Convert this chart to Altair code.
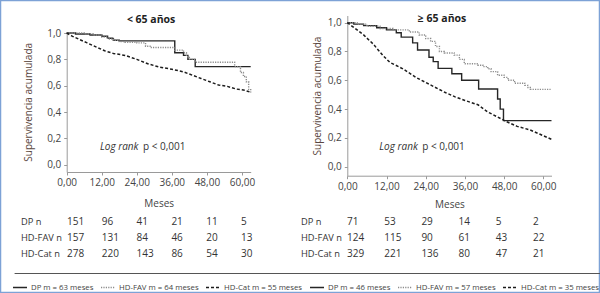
import altair as alt
import pandas as pd

FONT = "Open Sans"

# ---------------- data ----------------
meses_ticks = [0, 12, 24, 36, 48, 60]
surv_ticks = [0.0, 0.2, 0.4, 0.6, 0.8, 1.0]

leyenda = ["DP m = 63 meses", "HD-FAV m = 64 meses", "HD-Cat m = 55 meses",
           "DP m = 46 meses", "HD-FAV m = 57 meses", "HD-Cat m = 35 meses"]
grupos = ["DP n", "HD-FAV n", "HD-Cat n"]

# < 65 años
l_dp_t = [0, 3, 8, 12, 14, 16, 18, 37, 40, 41.5, 44, 63]
l_dp_s = [1.0, 0.993, 0.985, 0.975, 0.96, 0.945, 0.94, 0.85, 0.83, 0.80, 0.745, 0.745]
l_fav_t = [0, 6, 9, 12, 14, 16, 18, 20, 24, 27, 29, 37, 40, 41, 42, 44, 57.5, 59.5, 60.5, 61.5, 62.3, 63]
l_fav_s = [1.0, 0.995, 0.985, 0.97, 0.955, 0.945, 0.935, 0.93, 0.925, 0.90, 0.89, 0.87, 0.85, 0.82, 0.80, 0.778,
           0.745, 0.70, 0.67, 0.63, 0.57, 0.54]
l_cat_t = [0, 2, 4, 7, 10, 13, 16, 20, 24, 28, 32, 36, 40, 43, 46, 49, 52, 55, 58, 61, 63]
l_cat_s = [1.0, 0.975, 0.955, 0.925, 0.895, 0.865, 0.845, 0.83, 0.80, 0.765, 0.74, 0.725, 0.705, 0.68, 0.655,
           0.63, 0.605, 0.595, 0.575, 0.565, 0.55]

# >= 65 años
r_dp_t = [0, 2, 5, 9, 12, 15, 16.5, 20, 21.5, 25, 26.3, 27.8, 32, 35, 40.2, 46, 46.8, 47.8, 62.5]
r_dp_s = [1.0, 0.99, 0.98, 0.965, 0.95, 0.93, 0.90, 0.86, 0.81, 0.76, 0.73, 0.683, 0.645, 0.60, 0.54, 0.47,
          0.40, 0.32, 0.32]
r_fav_t = [0, 3, 6, 10, 14, 19, 22, 24, 25.5, 27, 28.2, 29.7, 32.7, 34.3, 35.8, 40, 41.5, 43, 44, 46, 48, 49.2,
           51.2, 54.3, 55.3, 56, 62.5]
r_fav_s = [1.0, 0.99, 0.975, 0.96, 0.95, 0.935, 0.915, 0.89, 0.87, 0.835, 0.80, 0.79, 0.775, 0.745, 0.715,
           0.705, 0.695, 0.68, 0.66, 0.635, 0.62, 0.60, 0.58, 0.565, 0.55, 0.537, 0.537]
r_cat_t = [0, 1.5, 3, 5, 8, 11, 13, 17, 21, 24, 27, 30, 33, 36, 40, 43, 46, 49, 52, 56, 59, 62.5]
r_cat_s = [1.0, 0.975, 0.95, 0.915, 0.85, 0.77, 0.725, 0.68, 0.62, 0.585, 0.55, 0.515, 0.485, 0.46, 0.43,
           0.38, 0.345, 0.31, 0.28, 0.255, 0.225, 0.19]

# numbers at risk
l_riesgo = [[151, 96, 41, 21, 11, 5], [157, 131, 84, 46, 20, 13], [278, 220, 143, 86, 54, 30]]
r_riesgo = [[71, 53, 29, 14, 5, 2], [124, 115, 90, 61, 43, 22], [329, 221, 136, 80, 47, 21]]

titulos = ["< 65 años", "≥ 65 años"]
logrank_a = "Log rank"
logrank_b = "p < 0,001"


def serie_df(ts, ss, ley):
    return pd.DataFrame({"t": ts, "s": ss, "ley": ley})


# ---------------- styles ----------------
color_scale = alt.Scale(domain=leyenda,
                        range=["#262626", "#8c8c8c", "#1c1c1c", "#262626", "#8c8c8c", "#1c1c1c"])
dash_scale = alt.Scale(domain=leyenda,
                       range=[[1, 0], [1.2, 1.2], [3, 2], [1, 0], [1.2, 1.2], [3, 2]])
leg = alt.Legend(orient="none", legendX=12, legendY=279.5, direction="horizontal", columns=6, title=None,
                 symbolType="stroke", symbolSize=196, symbolStrokeWidth=1.5, labelFont=FONT,
                 labelFontSize=7.8, labelColor="#444", columnPadding=4, labelOffset=3, gridAlign="each",
                 padding=0)


def x_axis(offset, title_pad, lab_pad):
    return alt.Axis(values=meses_ticks, format=".2f", labelExpr="replace(datum.label, '.', ',')",
                    orient="bottom", offset=offset, title="Meses", titlePadding=title_pad, grid=False,
                    tickSize=3, domainColor="#9a9a9a", tickColor="#9a9a9a", labelFont=FONT, labelFontSize=10,
                    labelColor="#444", labelPadding=lab_pad, labelFlush=False, labelOverlap=False,
                    titleFont=FONT, titleFontSize=10, titleFontWeight="normal", titleColor="#444")


def y_axis(offset, title_pad):
    return alt.Axis(values=surv_ticks, format=".1f", labelExpr="replace(datum.label, '.', ',')",
                    orient="left", offset=offset, title="Supervivencia acumulada", titlePadding=title_pad,
                    grid=False, tickSize=3, domainColor="#9a9a9a", tickColor="#9a9a9a", labelFont=FONT,
                    labelFontSize=10, labelColor="#444", labelPadding=3, labelFlush=False, labelOverlap=False,
                    titleFont=FONT, titleFontSize=10, titleFontWeight="normal", titleColor="#5a4640")


def panel(steps_df, cat_df, xs, ys, xa, ya, titulo, tpos, lpos):
    X = alt.X("t:Q", scale=xs, axis=xa)
    Y = alt.Y("s:Q", scale=ys, axis=ya)
    col = alt.Color("ley:N", scale=color_scale, legend=leg)
    dash = alt.StrokeDash("ley:N", scale=dash_scale, legend=leg)
    steps = alt.Chart(steps_df).mark_line(interpolate="step-after", strokeWidth=1.4).encode(
        x=X, y=Y, color=col, strokeDash=dash)
    cat = alt.Chart(cat_df).mark_line(strokeWidth=1.5).encode(x=X, y=Y, color=col, strokeDash=dash)
    tdf = pd.DataFrame({"t": [tpos[0]], "s": [tpos[1]], "txt": [titulo]})
    tit = alt.Chart(tdf).mark_text(font=FONT, fontSize=10.5, fontWeight="bold", color="#222",
                                   align="center", baseline="middle").encode(x=X, y=Y, text="txt:N")
    ldf = pd.DataFrame({"t": [lpos[0]], "s": [lpos[1]], "a": [logrank_a], "b": [logrank_b]})
    la = alt.Chart(ldf).mark_text(font=FONT, fontSize=10, fontStyle="italic", color="#333",
                                  align="left", baseline="middle").encode(x=X, y=Y, text="a:N")
    lb = alt.Chart(ldf).mark_text(font=FONT, fontSize=10, color="#333", align="left", baseline="middle",
                                  dx=43).encode(x=X, y=Y, text="b:N")
    return alt.layer(steps, cat, tit, la, lb)


def tabla(riesgo, col_range, label_x):
    rows = []
    for g, vals in zip(grupos, riesgo):
        for m, v in zip(meses_ticks, vals):
            rows.append({"t": m, "fila": g, "n": str(v)})
    df = pd.DataFrame(rows)
    Y = alt.Y("fila:N", scale=alt.Scale(type="point", domain=grupos, range=[222, 254], padding=0), axis=None)
    nums = alt.Chart(df).mark_text(font=FONT, fontSize=10, color="#333", align="left",
                                   baseline="middle").encode(
        x=alt.X("t:Q", scale=alt.Scale(domain=[0, 60], range=col_range), axis=None), y=Y, text="n:N")
    labs = alt.Chart(pd.DataFrame({"fila": grupos})).mark_text(font=FONT, fontSize=9.3, color="#333",
                                                                align="left", baseline="middle").encode(
        x=alt.value(label_x), y=Y, text="fila:N")
    return alt.layer(nums, labs)


left_steps = pd.concat([serie_df(l_dp_t, l_dp_s, leyenda[0]), serie_df(l_fav_t, l_fav_s, leyenda[1])])
left_cat = serie_df(l_cat_t, l_cat_s, leyenda[2])
right_steps = pd.concat([serie_df(r_dp_t, r_dp_s, leyenda[3]), serie_df(r_fav_t, r_fav_s, leyenda[4])])
right_cat = serie_df(r_cat_t, r_cat_s, leyenda[5])

H = 293
lx = alt.Scale(domain=[0, 63], range=[66.7, 250.7], nice=False, zero=False)
ly = alt.Scale(domain=[-0.055, 1.01], range=[172, 31.7], nice=False, zero=False)
rx = alt.Scale(domain=[0, 62.5], range=[347.3, 551.5], nice=False, zero=False)
ry = alt.Scale(domain=[-0.0625, 1.05], range=[175.7, 15.5], nice=False, zero=False)

left = panel(left_steps, left_cat, lx, ly, x_axis(172 - H, 11, 2), y_axis(-66.7, 13),
             titulos[0], (28.9, 1.096), (11.4, 0.136))
right = panel(right_steps, right_cat, rx, ry, x_axis(175.7 - H, 8, 3), y_axis(-347.3, 5),
              titulos[1], (29.0, 1.024), (9.8, 0.139))

sep = alt.Chart(pd.DataFrame({"k": [0]})).mark_rule(color="#555", strokeWidth=1).encode(
    x=alt.value(14.6), x2=alt.value(600), y=alt.value(273.5))

chart = alt.layer(
    left, right, tabla(l_riesgo, [67, 241], 21), tabla(r_riesgo, [347, 533], 301), sep
).resolve_scale(x="independent", y="independent").properties(
    width=600, height=H, autosize=alt.AutoSizeParams(type="none"), padding=0, background="white"
).configure_view(stroke="#7da2d6", strokeWidth=2.5)

chart.save("out.html", embed_options={"renderer": "svg", "actions": False})
